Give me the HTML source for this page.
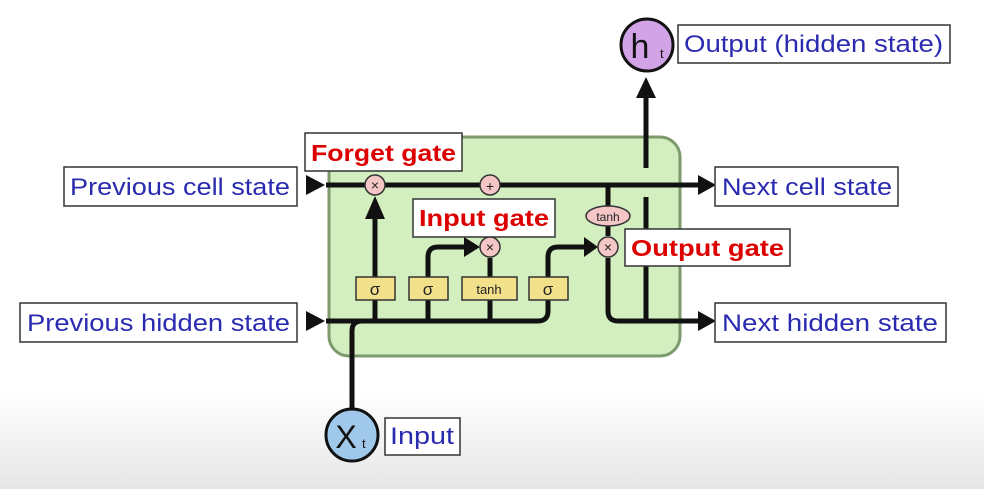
<!DOCTYPE html>
<html><head><meta charset="utf-8"><style>
html,body{margin:0;padding:0;width:984px;height:489px;overflow:hidden}
svg{display:block}
</style></head><body>
<svg width="984" height="489" viewBox="0 0 984 489" xmlns="http://www.w3.org/2000/svg" font-family="Liberation Sans, sans-serif">
<defs>
<linearGradient id="bg" x1="0" y1="0" x2="0" y2="1">
<stop offset="0" stop-color="#ffffff"/><stop offset="0.8" stop-color="#ffffff"/><stop offset="1" stop-color="#e6e6e6"/>
</linearGradient>
</defs>
<rect width="984" height="489" fill="url(#bg)"/>
<!-- green cell -->
<rect x="329" y="137" width="351" height="219" rx="20" fill="#d3efc0" stroke="#7c9a6c" stroke-width="3"/>
<g stroke="#111" stroke-width="5" fill="none" stroke-linecap="butt">
<!-- cell line -->
<line x1="326" y1="185" x2="700" y2="185"/>
<!-- hidden line -->
<path d="M326 321 H538 Q548 321 548 311 V257 Q548 247 558 247 H586"/>
<!-- forget -->
<line x1="375" y1="321" x2="375" y2="215"/>
<!-- input sigma -->
<path d="M428 321 V257 Q428 247 438 247 H466"/>
<line x1="490" y1="321" x2="490" y2="258"/>
<!-- x input -->
<path d="M352 410 V331 Q352 321 362 321"/>
<!-- output path -->
<line x1="608" y1="185" x2="608" y2="236"/>
<path d="M608 258 V311 Q608 321 618 321 H700"/>
<!-- h output vertical -->
<line x1="646" y1="321" x2="646" y2="197"/>
<line x1="646" y1="168" x2="646" y2="95"/>
</g>
<g fill="#111">
<polygon points="306,175 325,185 306,195"/>
<polygon points="306,311 325,321 306,331"/>
<polygon points="698,175 716,185 698,195"/>
<polygon points="698,311 716,321 698,331"/>
<polygon points="365,219 375,196 385,219"/>
<polygon points="464,237 480,247 464,257"/>
<polygon points="584,237 598,247 584,257"/>
<polygon points="636,98 646,77 656,98"/>
</g>
<!-- boxes -->
<g fill="#f3e08a" stroke="#333" stroke-width="1.5">
<rect x="356" y="277" width="39" height="23"/>
<rect x="409" y="277" width="39" height="23"/>
<rect x="462" y="277" width="55" height="23"/>
<rect x="529" y="277" width="39" height="23"/>
</g>
<g font-size="17" fill="#222" text-anchor="middle">
<text x="375" y="295">σ</text><text x="428" y="295">σ</text><text x="548" y="295">σ</text>
<text x="489" y="294" font-size="13">tanh</text>
</g>
<!-- pink circles -->
<g fill="#f4c6c6" stroke="#333" stroke-width="1.5">
<circle cx="375" cy="185" r="10"/>
<circle cx="490" cy="185" r="10"/>
<circle cx="490" cy="247" r="10"/>
<circle cx="608" cy="247" r="10"/>
<ellipse cx="608" cy="216" rx="22" ry="10"/>
</g>
<g font-size="14" fill="#222" text-anchor="middle">
<text x="375" y="190">×</text><text x="490" y="191">+</text><text x="490" y="252">×</text><text x="608" y="252">×</text>
<text x="608" y="221" font-size="12">tanh</text>
</g>
<!-- ht and xt -->
<circle cx="647" cy="45" r="26" fill="#d3a3e8" stroke="#111" stroke-width="3"/>
<text x="640" y="58" font-size="34" fill="#111" text-anchor="middle">h</text><text x="660" y="58" font-size="13" fill="#111">t</text>
<circle cx="352" cy="435" r="26" fill="#9fc8ea" stroke="#111" stroke-width="3"/>
<text x="346" y="448" font-size="32" fill="#111" text-anchor="middle">X</text><text x="362" y="448" font-size="13" fill="#111">t</text>
<!-- blue labels -->
<g fill="#fff" stroke="#333" stroke-width="1.5">
<rect x="64" y="167" width="233" height="39"/>
<rect x="20" y="303" width="277" height="39"/>
<rect x="715" y="167" width="183" height="39"/>
<rect x="715" y="303" width="231" height="39"/>
<rect x="678" y="25" width="272" height="38"/>
<rect x="385" y="418" width="75" height="37"/>
</g>
<g fill="#2b2bb0" font-size="24">
<text x="70" y="195" textLength="220" lengthAdjust="spacingAndGlyphs">Previous cell state</text>
<text x="27" y="331" textLength="263" lengthAdjust="spacingAndGlyphs">Previous hidden state</text>
<text x="722" y="195" textLength="170" lengthAdjust="spacingAndGlyphs">Next cell state</text>
<text x="722" y="331" textLength="216" lengthAdjust="spacingAndGlyphs">Next hidden state</text>
<text x="684" y="52" textLength="259" lengthAdjust="spacingAndGlyphs">Output (hidden state)</text>
<text x="390" y="444" textLength="64" lengthAdjust="spacingAndGlyphs">Input</text>
</g>
<!-- red labels -->
<g fill="#fff" stroke="#333" stroke-width="1.5">
<rect x="305" y="133" width="157" height="38"/>
<rect x="413" y="199" width="142" height="38"/>
<rect x="625" y="229" width="165" height="37"/>
</g>
<g fill="#dd0000" font-size="23" font-weight="bold">
<text x="311" y="161" textLength="145" lengthAdjust="spacingAndGlyphs">Forget gate</text>
<text x="419" y="226" textLength="130" lengthAdjust="spacingAndGlyphs">Input gate</text>
<text x="631" y="256" textLength="153" lengthAdjust="spacingAndGlyphs">Output gate</text>
</g>
</svg>
</body></html>
